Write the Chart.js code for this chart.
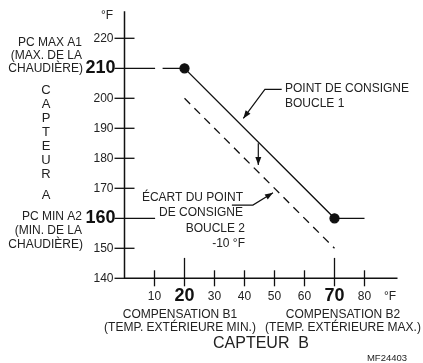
<!DOCTYPE html>
<html lang="fr">
<head>
    <meta charset="UTF-8">
    <title>Courbe de compensation</title>
    <script src="https://cdn.jsdelivr.net/npm/chart.js"></script>
    <style>
        html, body { margin: 0; padding: 0; background: #fff; }
        canvas { display: block; }
    </style>
</head>
<body>
    <canvas id="courbe" width="423" height="363"></canvas>
    <script>
        // graduations des deux capteurs (°F)
        var xTicks = [10, 20, 30, 40, 50, 60, 70, 80];
        var yTicks = [140, 150, 160, 170, 180, 190, 200, 210, 220];
        var xBold = [20, 70];
        var yBold = [160, 210];

        // point de consigne boucle 1 : plateau, pente, plateau
        var boucle1 = [
            { x: 12.7, y: 210 },
            { x: 20, y: 210 },
            { x: 70, y: 160 },
            { x: 80, y: 160 }
        ];
        // boucle 2 = boucle 1 - 10 °F
        var boucle2 = [
            { x: 20, y: 200 },
            { x: 70, y: 150 }
        ];

        // flèches de repère (en unités du graphique)
        var fleche1 = [[52.4, 203], [46.8, 203], [39.6, 193.3]];
        var fleche2 = [[35.8, 164.4], [42.8, 164.4], [49.5, 168.5]];
        var flecheEcart = [[44.6, 185], [44.6, 177.8]];

        var POLICE = '"Liberation Sans", Arial, sans-serif';
        var TEXTE = '#222';

        function texte(ctx, str, x, y, align, size, bold) {
            ctx.font = (bold ? 'bold ' : '') + size + 'px ' + POLICE;
            ctx.textAlign = align;
            ctx.textBaseline = 'middle';
            ctx.fillStyle = bold ? '#111' : TEXTE;
            ctx.fillText(str, x, y);
        }

        function fleche(ctx, pts, sx, sy) {
            ctx.beginPath();
            pts.forEach(function (p, i) {
                var px = sx.getPixelForValue(p[0]), py = sy.getPixelForValue(p[1]);
                if (i === 0) ctx.moveTo(px, py); else ctx.lineTo(px, py);
            });
            ctx.stroke();
            var a = pts[pts.length - 2], b = pts[pts.length - 1];
            var ax = sx.getPixelForValue(a[0]), ay = sy.getPixelForValue(a[1]);
            var bx = sx.getPixelForValue(b[0]), by = sy.getPixelForValue(b[1]);
            var ang = Math.atan2(by - ay, bx - ax);
            ctx.beginPath();
            ctx.moveTo(bx, by);
            ctx.lineTo(bx - 8 * Math.cos(ang) + 3 * Math.sin(ang), by - 8 * Math.sin(ang) - 3 * Math.cos(ang));
            ctx.lineTo(bx - 8 * Math.cos(ang) - 3 * Math.sin(ang), by - 8 * Math.sin(ang) + 3 * Math.cos(ang));
            ctx.closePath();
            ctx.fill();
        }

        var axes = {
            id: 'axes',
            beforeDatasetsDraw: function (chart) {
                var ctx = chart.ctx, sx = chart.scales.x, sy = chart.scales.y;
                var x0 = sx.getPixelForValue(0), y0 = sy.getPixelForValue(140);
                ctx.save();
                ctx.strokeStyle = '#111';
                ctx.lineWidth = 1.5;
                ctx.beginPath();
                ctx.moveTo(x0, chart.chartArea.top);
                ctx.lineTo(x0, y0);
                ctx.lineTo(chart.chartArea.right, y0);
                ctx.stroke();

                ctx.lineWidth = 1.3;
                yTicks.forEach(function (v) {
                    var py = sy.getPixelForValue(v);
                    var fin = yBold.indexOf(v) >= 0 ? sx.getPixelForValue(10.2) : x0 + 10;
                    if (v === 140) fin = x0;
                    ctx.beginPath();
                    ctx.moveTo(x0 - 10, py);
                    ctx.lineTo(fin, py);
                    ctx.stroke();
                    if (yBold.indexOf(v) >= 0) {
                        texte(ctx, String(v), x0 - 9, py, 'right', 18, true);
                    } else {
                        texte(ctx, String(v), x0 - 11, py, 'right', 12, false);
                    }
                });
                xTicks.forEach(function (v) {
                    var px = sx.getPixelForValue(v);
                    var haut = xBold.indexOf(v) >= 0 ? sy.getPixelForValue(146.8) : y0 - 8;
                    ctx.beginPath();
                    ctx.moveTo(px, y0 + 8);
                    ctx.lineTo(px, haut);
                    ctx.stroke();
                    if (xBold.indexOf(v) >= 0) {
                        texte(ctx, String(v), px, y0 + 18, 'center', 18, true);
                    } else {
                        texte(ctx, String(v), px, y0 + 18, 'center', 12, false);
                    }
                });
                ctx.restore();
            },
            afterDraw: function (chart) {
                var ctx = chart.ctx, sx = chart.scales.x, sy = chart.scales.y;
                ctx.save();
                ctx.strokeStyle = '#111';
                ctx.fillStyle = '#111';
                ctx.lineWidth = 1.2;
                fleche(ctx, fleche1, sx, sy);
                fleche(ctx, fleche2, sx, sy);
                fleche(ctx, flecheEcart, sx, sy);

                texte(ctx, '°F', 107, 16, 'center', 12, false);
                texte(ctx, '°F', 390, 297, 'center', 12, false);

                texte(ctx, 'PC MAX A1', 82, 43, 'right', 12, false);
                texte(ctx, '(MAX. DE LA', 82, 56, 'right', 12, false);
                texte(ctx, 'CHAUDIÈRE)', 83, 69, 'right', 12, false);
                texte(ctx, 'PC MIN A2', 82, 217, 'right', 12, false);
                texte(ctx, '(MIN. DE LA', 82, 231, 'right', 12, false);
                texte(ctx, 'CHAUDIÈRE)', 83, 245, 'right', 12, false);

                'CAPTEUR'.split('').forEach(function (c, i) {
                    texte(ctx, c, 46, 90 + i * 14.1, 'center', 13, false);
                });
                texte(ctx, 'A', 46, 195, 'center', 13, false);

                texte(ctx, 'POINT DE CONSIGNE', 285, 89, 'left', 12, false);
                texte(ctx, 'BOUCLE 1', 285, 104, 'left', 12, false);

                texte(ctx, 'ÉCART DU POINT', 243, 198, 'right', 12, false);
                texte(ctx, 'DE CONSIGNE', 243, 213, 'right', 12, false);
                texte(ctx, 'BOUCLE 2', 245, 229, 'right', 12, false);
                texte(ctx, '-10 °F', 245, 244, 'right', 12, false);

                texte(ctx, 'COMPENSATION B1', 180, 315, 'center', 12, false);
                texte(ctx, '(TEMP. EXTÉRIEURE MIN.)', 180, 328, 'center', 12, false);
                texte(ctx, 'COMPENSATION B2', 343, 315, 'center', 12, false);
                texte(ctx, '(TEMP. EXTÉRIEURE MAX.)', 343, 328, 'center', 12, false);
                texte(ctx, 'CAPTEUR  B', 261, 344, 'center', 16, false);
                texte(ctx, 'MF24403', 387, 358, 'center', 9.5, false);
                ctx.restore();
            }
        };

        var ctx = document.getElementById('courbe').getContext('2d');
        var chart = new Chart(ctx, {
            type: 'scatter',
            data: {
                datasets: [{
                    label: 'Boucle 1',
                    data: boucle1,
                    showLine: true,
                    borderColor: '#111',
                    backgroundColor: '#111',
                    borderWidth: 1.3,
                    pointRadius: [0, 4.5, 4.5, 0],
                    pointHoverRadius: 0
                }, {
                    label: 'Boucle 2',
                    data: boucle2,
                    showLine: true,
                    borderColor: '#111',
                    borderWidth: 1.3,
                    borderDash: [8, 6],
                    pointRadius: 0
                }]
            },
            options: {
                responsive: false,
                animation: false,
                layout: {
                    padding: { left: 124.5, right: 25.5, top: 11.3, bottom: 84.7 }
                },
                scales: {
                    x: { type: 'linear', min: 0, max: 91, display: false },
                    y: { type: 'linear', min: 140, max: 229, display: false }
                },
                plugins: {
                    legend: { display: false },
                    tooltip: { enabled: false }
                }
            },
            plugins: [axes]
        });
    </script>
</body>
</html>
